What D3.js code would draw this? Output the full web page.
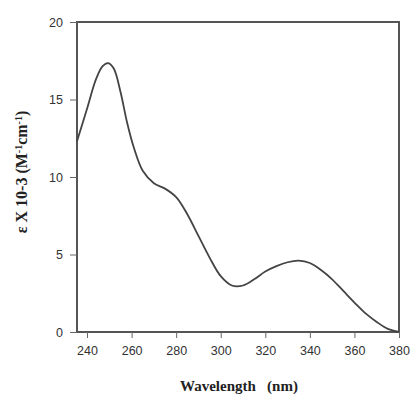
<!DOCTYPE html>
<html>
<head>
<meta charset="utf-8">
<script src="https://cdn.jsdelivr.net/npm/d3@7"></script>
<style>
  body { margin: 0; background: #fff; }
  svg { display: block; }
</style>
</head>
<body>
<div id="chart"></div>
<script>
// valeurs
const wavelength = [235.5, 240, 244, 247, 249.5, 252, 255, 258, 261, 265, 270, 275, 280, 285, 290, 295, 300, 305, 310, 315, 320, 325, 330, 335, 340, 345, 350, 355, 360, 365, 370, 375, 380];
const epsilon = [12.3, 14.4, 16.3, 17.15, 17.35, 17.0, 15.5, 13.5, 11.9, 10.4, 9.6, 9.25, 8.7, 7.6, 6.2, 4.8, 3.6, 3.0, 3.0, 3.4, 3.9, 4.25, 4.5, 4.6, 4.45, 4.0, 3.4, 2.65, 1.9, 1.2, 0.65, 0.2, 0];
const xTicks = [240, 260, 280, 300, 320, 340, 360, 380];
const yTicks = [0, 5, 10, 15, 20];

const width = 412, height = 397;
const margin = { left: 77, right: 13, top: 22, bottom: 65 };

const svg = d3.select('#chart')
  .append('svg')
  .attr('width', width)
  .attr('height', height);

const x = d3.scaleLinear()
  .domain([235.5, 380])
  .range([margin.left, width - margin.right]);

const y = d3.scaleLinear()
  .domain([0, 20])
  .range([height - margin.bottom, margin.top]);

// cadre
svg.append('rect')
  .attr('x', margin.left)
  .attr('y', margin.top)
  .attr('width', width - margin.left - margin.right)
  .attr('height', height - margin.top - margin.bottom)
  .attr('fill', 'none')
  .attr('stroke', '#555')
  .attr('stroke-width', 2);

// axe x
let axeX = svg.append('g')
  .attr('transform', 'translate(0,' + (height - margin.bottom) + ')')
  .call(d3.axisBottom(x).tickValues(xTicks).tickSize(6).tickPadding(8).tickSizeOuter(0));
axeX.select('.domain').remove();
axeX.selectAll('line').attr('stroke', '#666').attr('stroke-width', 1);
axeX.selectAll('text')
  .attr('font-family', 'Liberation Sans, Arial, sans-serif')
  .attr('font-size', 12.5)
  .attr('fill', '#333');

// axe y
let axeY = svg.append('g')
  .attr('transform', 'translate(' + margin.left + ',0)')
  .call(d3.axisLeft(y).tickValues(yTicks).tickSize(7).tickPadding(7).tickSizeOuter(0));
axeY.select('.domain').remove();
axeY.selectAll('line').attr('stroke', '#666').attr('stroke-width', 1);
axeY.selectAll('text')
  .attr('font-family', 'Liberation Sans, Arial, sans-serif')
  .attr('font-size', 12.5)
  .attr('fill', '#333');

// courbe
const pts = wavelength.map((w, i) => [w, epsilon[i]]);
const ligne = d3.line()
  .x(d => x(d[0]))
  .y(d => y(d[1]))
  .curve(d3.curveCatmullRom.alpha(0.5));

svg.append('path')
  .datum(pts)
  .attr('d', ligne)
  .attr('fill', 'none')
  .attr('stroke', '#444')
  .attr('stroke-width', 1.8);

// titres des axes
svg.append('text')
  .attr('x', 239)
  .attr('y', 391)
  .attr('text-anchor', 'middle')
  .attr('font-family', 'Liberation Serif, Times New Roman, serif')
  .attr('font-weight', 'bold')
  .attr('font-size', 15)
  .attr('fill', '#222')
  .attr('xml:space', 'preserve')
  .text('Wavelength   (nm)');

let titreY = svg.append('text')
  .attr('transform', 'translate(27,172) rotate(-90)')
  .attr('text-anchor', 'middle')
  .attr('font-family', 'Liberation Serif, Times New Roman, serif')
  .attr('font-weight', 'bold')
  .attr('font-size', 16)
  .attr('fill', '#222');
titreY.append('tspan').text('ε X 10-3 (M');
titreY.append('tspan').attr('baseline-shift', 'super').attr('font-size', 10).text('-1');
titreY.append('tspan').text('cm');
titreY.append('tspan').attr('baseline-shift', 'super').attr('font-size', 10).text('-1');
titreY.append('tspan').text(')');
</script>
</body>
</html>
